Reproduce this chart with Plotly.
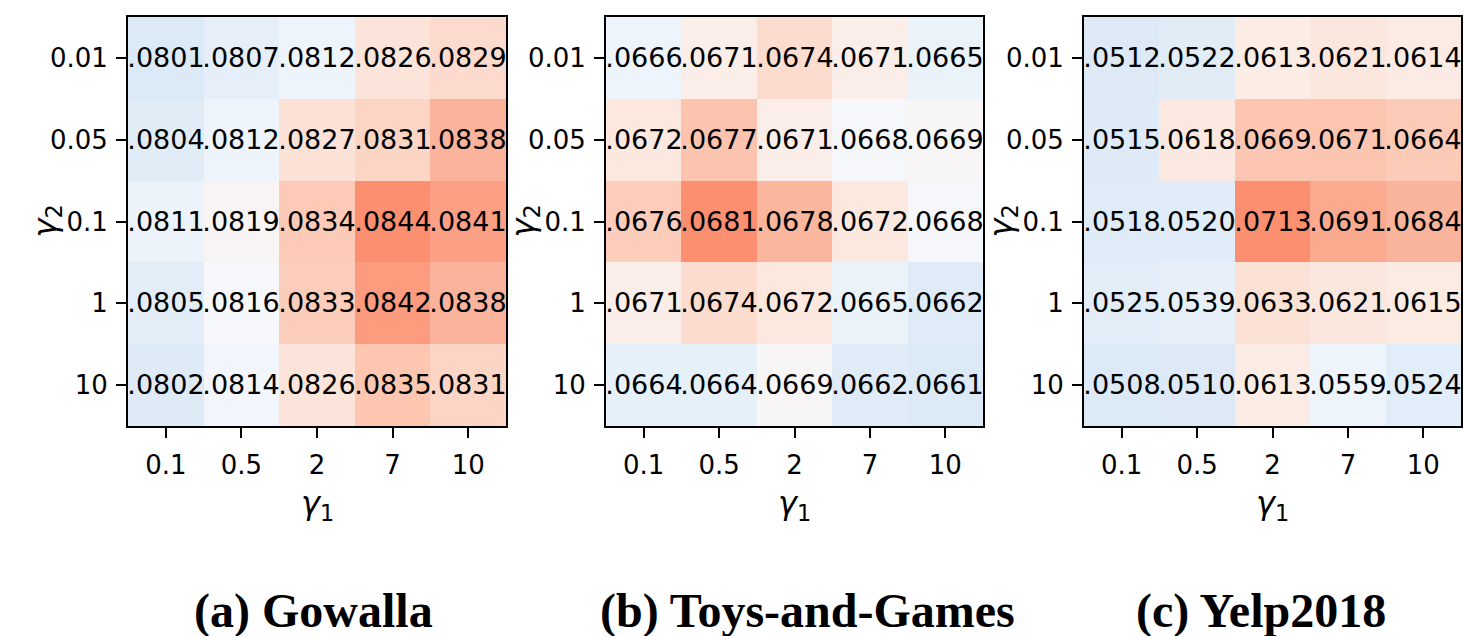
import plotly.graph_objects as go

# ---- data ----
gamma1_labels = ["0.1", "0.5", "2", "7", "10"]
gamma2_labels = ["0.01", "0.05", "0.1", "1", "10"]

gowalla = [
    [0.0801, 0.0807, 0.0812, 0.0826, 0.0829],
    [0.0804, 0.0812, 0.0827, 0.0831, 0.0838],
    [0.0811, 0.0819, 0.0834, 0.0844, 0.0841],
    [0.0805, 0.0816, 0.0833, 0.0842, 0.0838],
    [0.0802, 0.0814, 0.0826, 0.0835, 0.0831],
]
toys = [
    [0.0666, 0.0671, 0.0674, 0.0671, 0.0665],
    [0.0672, 0.0677, 0.0671, 0.0668, 0.0669],
    [0.0676, 0.0681, 0.0678, 0.0672, 0.0668],
    [0.0671, 0.0674, 0.0672, 0.0665, 0.0662],
    [0.0664, 0.0664, 0.0669, 0.0662, 0.0661],
]
yelp = [
    [0.0512, 0.0522, 0.0613, 0.0621, 0.0614],
    [0.0515, 0.0618, 0.0669, 0.0671, 0.0664],
    [0.0518, 0.0520, 0.0713, 0.0691, 0.0684],
    [0.0525, 0.0539, 0.0633, 0.0621, 0.0615],
    [0.0508, 0.0510, 0.0613, 0.0559, 0.0524],
]
captions = ["(a) Gowalla", "(b) Toys-and-Games", "(c) Yelp2018"]
panels = [gowalla, toys, yelp]

# ---- style ----
W, H = 1464, 636
colorscale = [
    [0.00, "rgb(220,233,246)"],
    [0.20, "rgb(234,242,250)"],
    [0.33, "rgb(244,247,252)"],
    [0.41, "rgb(248,245,244)"],
    [0.50, "rgb(251,237,231)"],
    [0.60, "rgb(252,226,215)"],
    [0.70, "rgb(252,213,197)"],
    [0.80, "rgb(252,196,175)"],
    [0.90, "rgb(251,168,142)"],
    [1.00, "rgb(252,143,112)"],
]
box_px = [(128, 506), (606, 983), (1084, 1461)]
top_px, bot_px = 17, 426
FONT = "DejaVu Sans"


def px_x(p):
    return p / W


def px_y(p):
    return 1 - p / H


fig = go.Figure()
annotations = []
layout = {}
for i, (data, cap, (x0, x1)) in enumerate(zip(panels, captions, box_px)):
    n = "" if i == 0 else str(i + 1)
    text = [[f"{v:.4f}"[1:] for v in row] for row in data]
    fig.add_trace(go.Heatmap(
        z=data, x=gamma1_labels, y=gamma2_labels, text=text,
        texttemplate="%{text}",
        textfont=dict(family=FONT, size=27, color="black"),
        colorscale=colorscale, showscale=False,
        xaxis="x" + n, yaxis="y" + n, hoverinfo="skip",
    ))
    axis_common = dict(
        showline=True, mirror=True, linecolor="black", linewidth=2,
        ticks="outside", ticklen=10, tickwidth=2, tickcolor="black",
        tickfont=dict(family=FONT, size=26, color="black"),
        showgrid=False, zeroline=False, type="category",
    )
    layout["xaxis" + n] = dict(axis_common, domain=[px_x(x0), px_x(x1)],
                               anchor="y" + n, ticklabelstandoff=5)
    layout["yaxis" + n] = dict(axis_common, domain=[px_y(bot_px), px_y(top_px)],
                               anchor="x" + n, autorange="reversed",
                               ticklabelstandoff=3)
    cx = (x0 + x1) / 2
    annotations.append(dict(
        text="<i>γ</i><sub>1</sub>", x=px_x(cx), y=px_y(505),
        xref="paper", yref="paper", xanchor="center", yanchor="middle",
        showarrow=False, font=dict(family=FONT, size=32, color="black")))
    annotations.append(dict(
        text="<i>γ</i><sub>2</sub>", x=px_x(x0 - 82), y=px_y((top_px + bot_px) / 2),
        xref="paper", yref="paper", xanchor="center", yanchor="middle",
        textangle=-90, showarrow=False,
        font=dict(family=FONT, size=32, color="black")))

cap_x = [313, 808, 1261]
for cap, cxp in zip(captions, cap_x):
    annotations.append(dict(
        text=f"<b>{cap}</b>", x=px_x(cxp), y=px_y(611),
        xref="paper", yref="paper", xanchor="center", yanchor="middle",
        showarrow=False,
        font=dict(family="Liberation Serif", size=48, color="black")))

fig.update_layout(
    **layout,
    annotations=annotations,
    width=W, height=H,
    margin=dict(l=0, r=0, t=0, b=0),
    paper_bgcolor="white", plot_bgcolor="white",
    showlegend=False,
)
fig.write_html("out.html")
